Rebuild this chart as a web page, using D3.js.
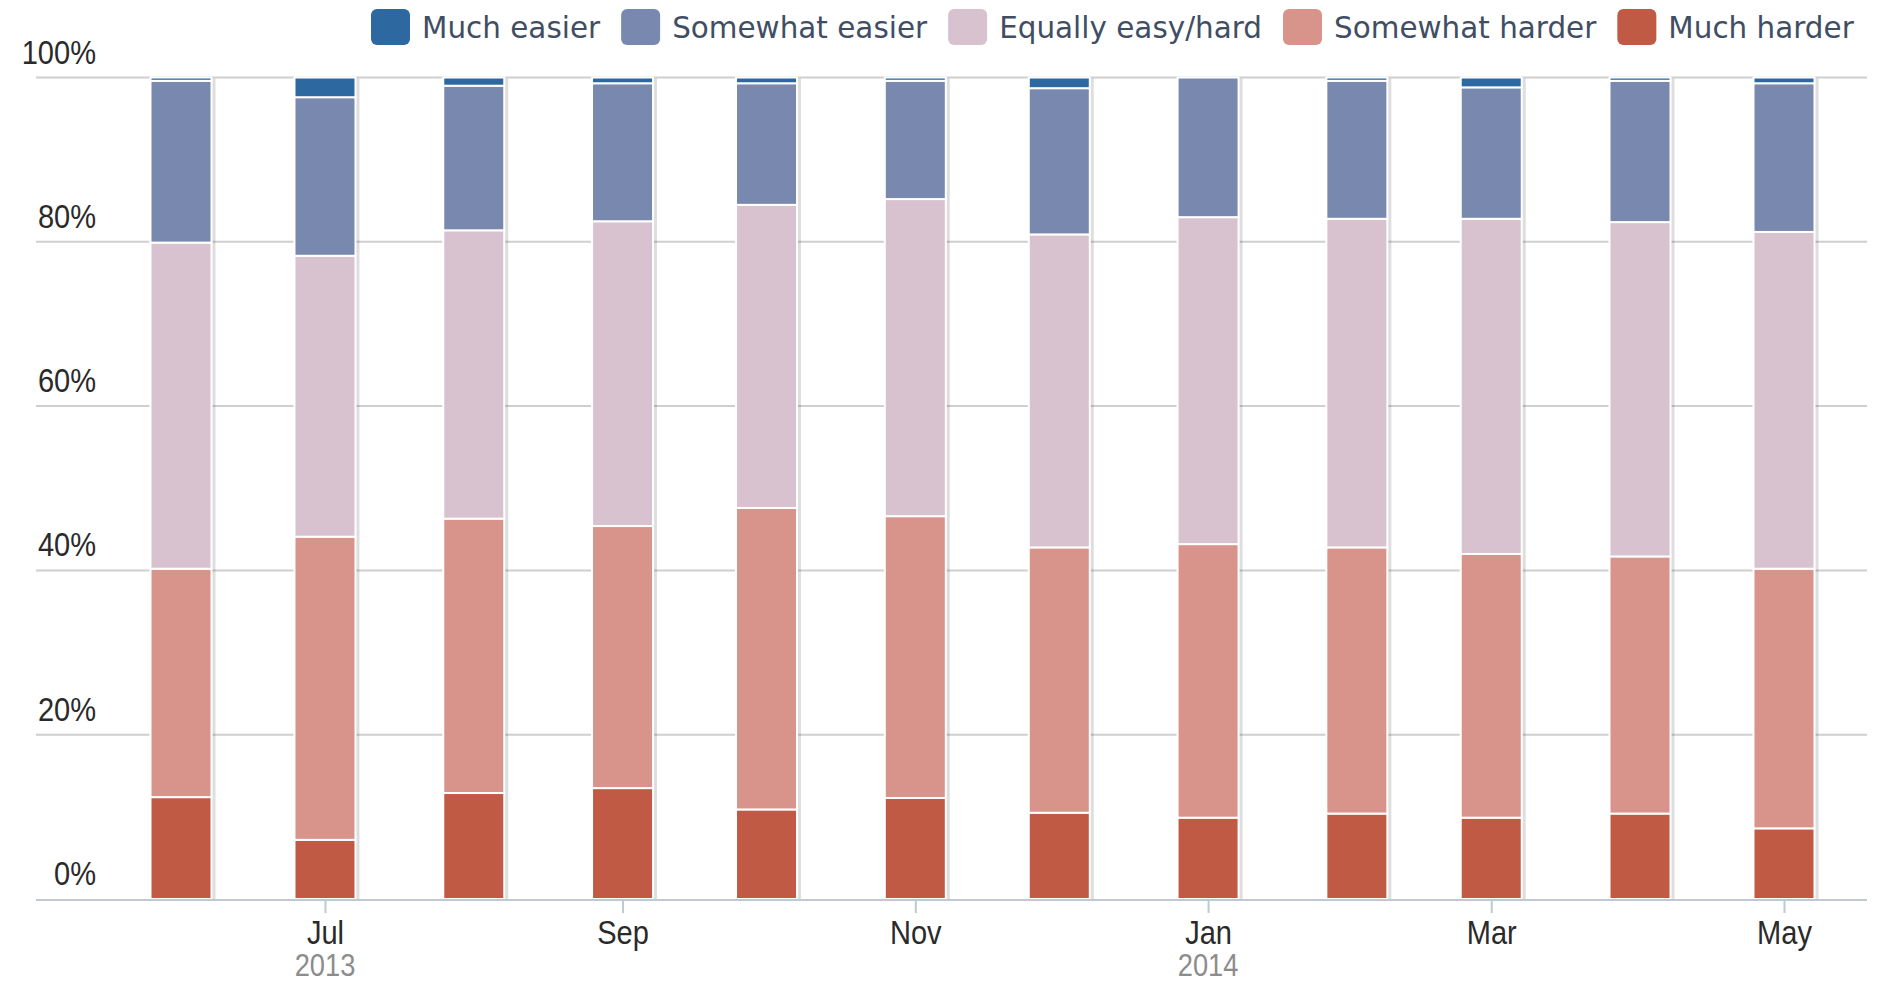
<!DOCTYPE html>
<html>
<head>
<meta charset="utf-8">
<script src="https://cdn.jsdelivr.net/npm/d3@7"></script>
<style>
  body { margin: 0; background: #fff; }
  svg { display: block; }
</style>
</head>
<body>
<div id="chart"></div>
<script>
// months (first of each month)
const months = ["2013-06-01", "2013-07-01", "2013-08-01", "2013-09-01", "2013-10-01", "2013-11-01",
                "2013-12-01", "2014-01-01", "2014-02-01", "2014-03-01", "2014-04-01", "2014-05-01"];

// percent of answers, bottom to top
const muchHarder     = [12.4, 7.2, 12.9, 13.5, 10.9, 12.3, 10.5, 9.9, 10.4, 9.9, 10.4, 8.6];
const somewhatHarder = [27.8, 36.9, 33.4, 31.9, 36.7, 34.3, 32.3, 33.3, 32.4, 32.1, 31.3, 31.6];
const equally        = [39.7, 34.2, 35.1, 37.1, 36.9, 38.6, 38.1, 39.8, 40.0, 40.8, 40.7, 41.0];
const somewhatEasier = [19.7, 19.3, 17.6, 16.8, 14.8, 14.4, 17.8, 17.0, 16.8, 16.0, 17.2, 18.1];
const muchEasier     = [0.4, 2.4, 1.0, 0.7, 0.7, 0.4, 1.3, 0.0, 0.4, 1.2, 0.4, 0.7];

const seriesNames  = ["Much easier", "Somewhat easier", "Equally easy/hard", "Somewhat harder", "Much harder"];
const seriesColors = ["#2d69a0", "#7888ae", "#d8c2d0", "#d8938b", "#c05a44"];

const yTicks = [0, 20, 40, 60, 80, 100];
const xTickDates = ["2013-07-01", "2013-09-01", "2013-11-01", "2014-01-01", "2014-03-01", "2014-05-01"];
const monthNames = ["Jul", "Sep", "Nov", "Jan", "Mar", "May"];
const yearDates = ["2013-07-01", "2014-01-01"];
const yearNames = ["2013", "2014"];

const width = 1901, height = 985;
const parse = d3.utcParse("%Y-%m-%d");

// table for the stack
const keys = ["muchHarder", "somewhatHarder", "equally", "somewhatEasier", "muchEasier"];
const table = months.map((m, i) => ({
  date: parse(m),
  muchHarder: muchHarder[i],
  somewhatHarder: somewhatHarder[i],
  equally: equally[i],
  somewhatEasier: somewhatEasier[i],
  muchEasier: muchEasier[i]
}));
const colorOf = {
  muchEasier: seriesColors[0], somewhatEasier: seriesColors[1], equally: seriesColors[2],
  somewhatHarder: seriesColors[3], muchHarder: seriesColors[4]
};

const stacked = d3.stack().keys(keys).offset(d3.stackOffsetExpand)(table);

const svg = d3.select("#chart").append("svg")
    .attr("width", width)
    .attr("height", height);

const plotLeft = 36, plotRight = 1867;
const x = d3.scaleUtc()
    .domain([parse(months[0]), parse(months[months.length - 1])])
    .range([181, 1784]);
const y = d3.scaleLinear()
    .domain([0, 1])
    .range([899, 77.5]);
const barW = 61;

const sx = 0.88;   // the axis text in the picture is a bit narrow
const legSx = 0.95;

// grid
svg.append("g")
  .selectAll("line")
  .data(yTicks.filter(d => d > 0))
  .join("line")
    .attr("x1", plotLeft)
    .attr("x2", plotRight)
    .attr("y1", d => y(d / 100))
    .attr("y2", d => y(d / 100))
    .attr("stroke", "#cfcfcf")
    .attr("stroke-width", 2);

// y labels, sitting above their grid line
svg.append("g")
  .selectAll("text")
  .data(yTicks)
  .join("text")
    .attr("transform", d => `translate(96, ${y(d / 100) - 14}) scale(${sx},1)`)
    .attr("text-anchor", "end")
    .attr("font-family", "Liberation Sans, Arial, sans-serif")
    .attr("font-size", 33)
    .attr("fill", "#2a2a2a")
    .text(d => d + "%");

// column shadows
svg.append("g")
  .selectAll("rect")
  .data(table)
  .join("rect")
    .attr("x", d => x(d.date) - barW / 2 + 2)
    .attr("y", y(1) + 1)
    .attr("width", barW + 2)
    .attr("height", y(0) - y(1))
    .attr("fill", "#000")
    .attr("opacity", 0.13);

// stacked columns
svg.append("g")
  .selectAll("g")
  .data(stacked)
  .join("g")
    .attr("fill", s => colorOf[s.key])
  .selectAll("rect")
  .data(s => s)
  .join("rect")
    .attr("x", d => x(d.data.date) - barW / 2)
    .attr("y", d => y(d[1]))
    .attr("width", barW)
    .attr("height", d => Math.max(0, y(d[0]) - y(d[1])))
    .attr("stroke", "#fff")
    .attr("stroke-width", 2);

// x axis
const xAxis = d3.axisBottom(x)
    .tickValues(xTickDates.map(parse))
    .tickFormat((d, i) => monthNames[i])
    .tickSize(14)
    .tickPadding(14);

svg.append("g")
    .attr("transform", `translate(0, ${y(0)})`)
    .call(xAxis)
    .call(g => g.select(".domain").remove())
    .call(g => g.selectAll(".tick line").attr("stroke", "#c0c8d4").attr("stroke-width", 2))
    .call(g => g.selectAll(".tick text")
        .attr("font-family", "Liberation Sans, Arial, sans-serif")
        .attr("font-size", 33)
        .attr("fill", "#2a2a2a")
        .attr("dy", null)
        .attr("y", 45)
        .attr("transform", `scale(${sx},1)`)
        .attr("x", 0));

// axis line
svg.append("line")
    .attr("x1", plotLeft)
    .attr("x2", plotRight)
    .attr("y1", y(0) + 1)
    .attr("y2", y(0) + 1)
    .attr("stroke", "#c0c8d4")
    .attr("stroke-width", 2);

// years below the months
svg.append("g")
  .selectAll("text")
  .data(yearDates)
  .join("text")
    .attr("transform", d => `translate(${x(parse(d))}, 976) scale(${sx},1)`)
    .attr("text-anchor", "middle")
    .attr("font-family", "Liberation Sans, Arial, sans-serif")
    .attr("font-size", 31)
    .attr("fill", "#8c8c8c")
    .text((d, i) => yearNames[i]);

// legend
const legend = svg.append("g");
let lx = 371;
seriesNames.forEach((name, i) => {
  legend.append("rect")
    .attr("x", lx)
    .attr("y", 9)
    .attr("width", 39)
    .attr("height", 36)
    .attr("rx", 6)
    .attr("fill", seriesColors[i]);
  const t = legend.append("text")
    .attr("transform", `translate(${lx + 51}, 38) scale(${legSx},1)`)
    .attr("font-family", "DejaVu Sans, Verdana, sans-serif")
    .attr("font-size", 31)
    .attr("fill", "#3f4e64")
    .text(name);
  lx += 51 + t.node().getComputedTextLength() * legSx + 21;
});
</script>
</body>
</html>
